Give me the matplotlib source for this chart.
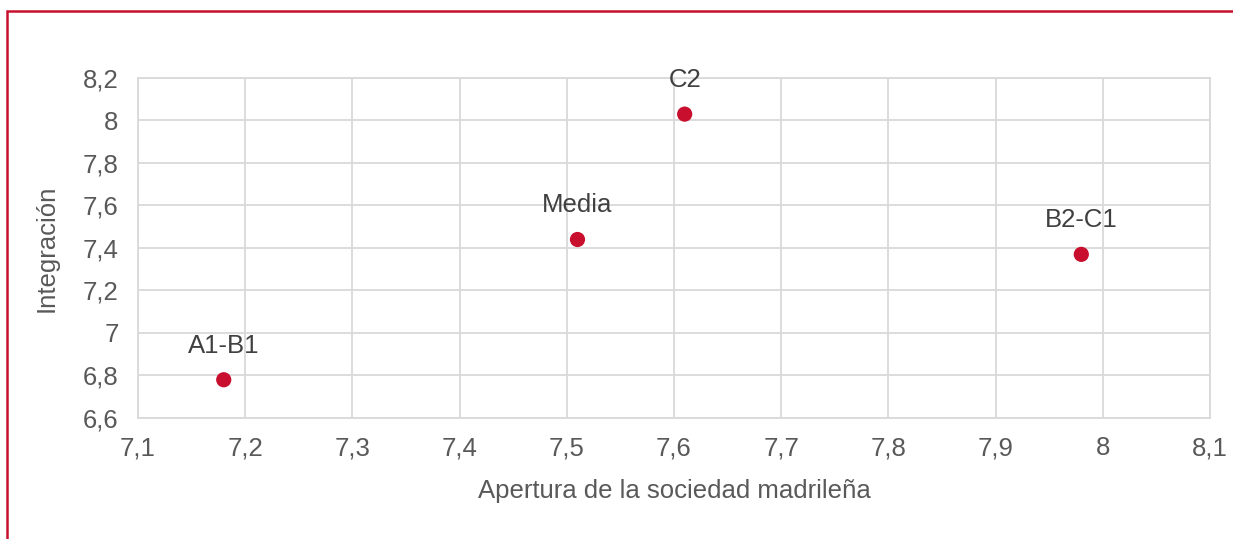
import matplotlib.pyplot as plt
from matplotlib.ticker import FuncFormatter, MultipleLocator
from matplotlib.patches import Rectangle

# Datos
etiquetas = ['A1-B1', 'Media', 'C2', 'B2-C1']
apertura = [7.18, 7.51, 7.61, 7.98]
integracion = [6.78, 7.44, 8.03, 7.37]

plt.rcParams['font.family'] = ['Liberation Sans', 'DejaVu Sans']
gris = '#595959'
rejilla = '#d9d9d9'
rojo = '#c8102e'

fig = plt.figure(figsize=(12.33, 5.39), dpi=100)
ax = fig.add_axes([0.1119, 0.2245, 0.8694, 0.6308])

ax.scatter(apertura, integracion, s=120, color=rojo, zorder=3, edgecolors='none')
for x, y, t in zip(apertura, integracion, etiquetas):
    ax.annotate(t, (x, y), xytext=(0, 16), textcoords='offset points',
                ha='center', va='bottom', fontsize=18.5, color='#404040')

ax.set_xlim(7.1, 8.1)
ax.set_ylim(6.6, 8.2)
ax.xaxis.set_major_locator(MultipleLocator(0.1))
ax.yaxis.set_major_locator(MultipleLocator(0.2))

def coma(v, pos):
    s = f'{v:.1f}'
    if s.endswith('.0'):
        s = s[:-2]
    return s.replace('.', ',')

ax.xaxis.set_major_formatter(FuncFormatter(coma))
ax.yaxis.set_major_formatter(FuncFormatter(coma))

ax.grid(True, color=rejilla, linewidth=1.3)
ax.set_axisbelow(True)
for sp in ax.spines.values():
    sp.set_color(rejilla)
    sp.set_linewidth(1.3)
ax.tick_params(length=0, labelsize=18.5, colors=gris)
ax.tick_params(axis='x', pad=13)
ax.tick_params(axis='y', pad=14)

ax.set_xlabel('Apertura de la sociedad madrileña', fontsize=18.5, color=gris, labelpad=14)
ax.set_ylabel('Integración', fontsize=18.5, color=gris, labelpad=17)

# Marco rojo (solo borde superior e izquierdo visibles)
fig.patches.append(Rectangle((7 / 1233, -0.1), 1.2, 1 - 11 / 539 + 0.1,
                             transform=fig.transFigure, fill=False,
                             edgecolor=rojo, linewidth=1.8))

fig.savefig('out.png', dpi=100)
